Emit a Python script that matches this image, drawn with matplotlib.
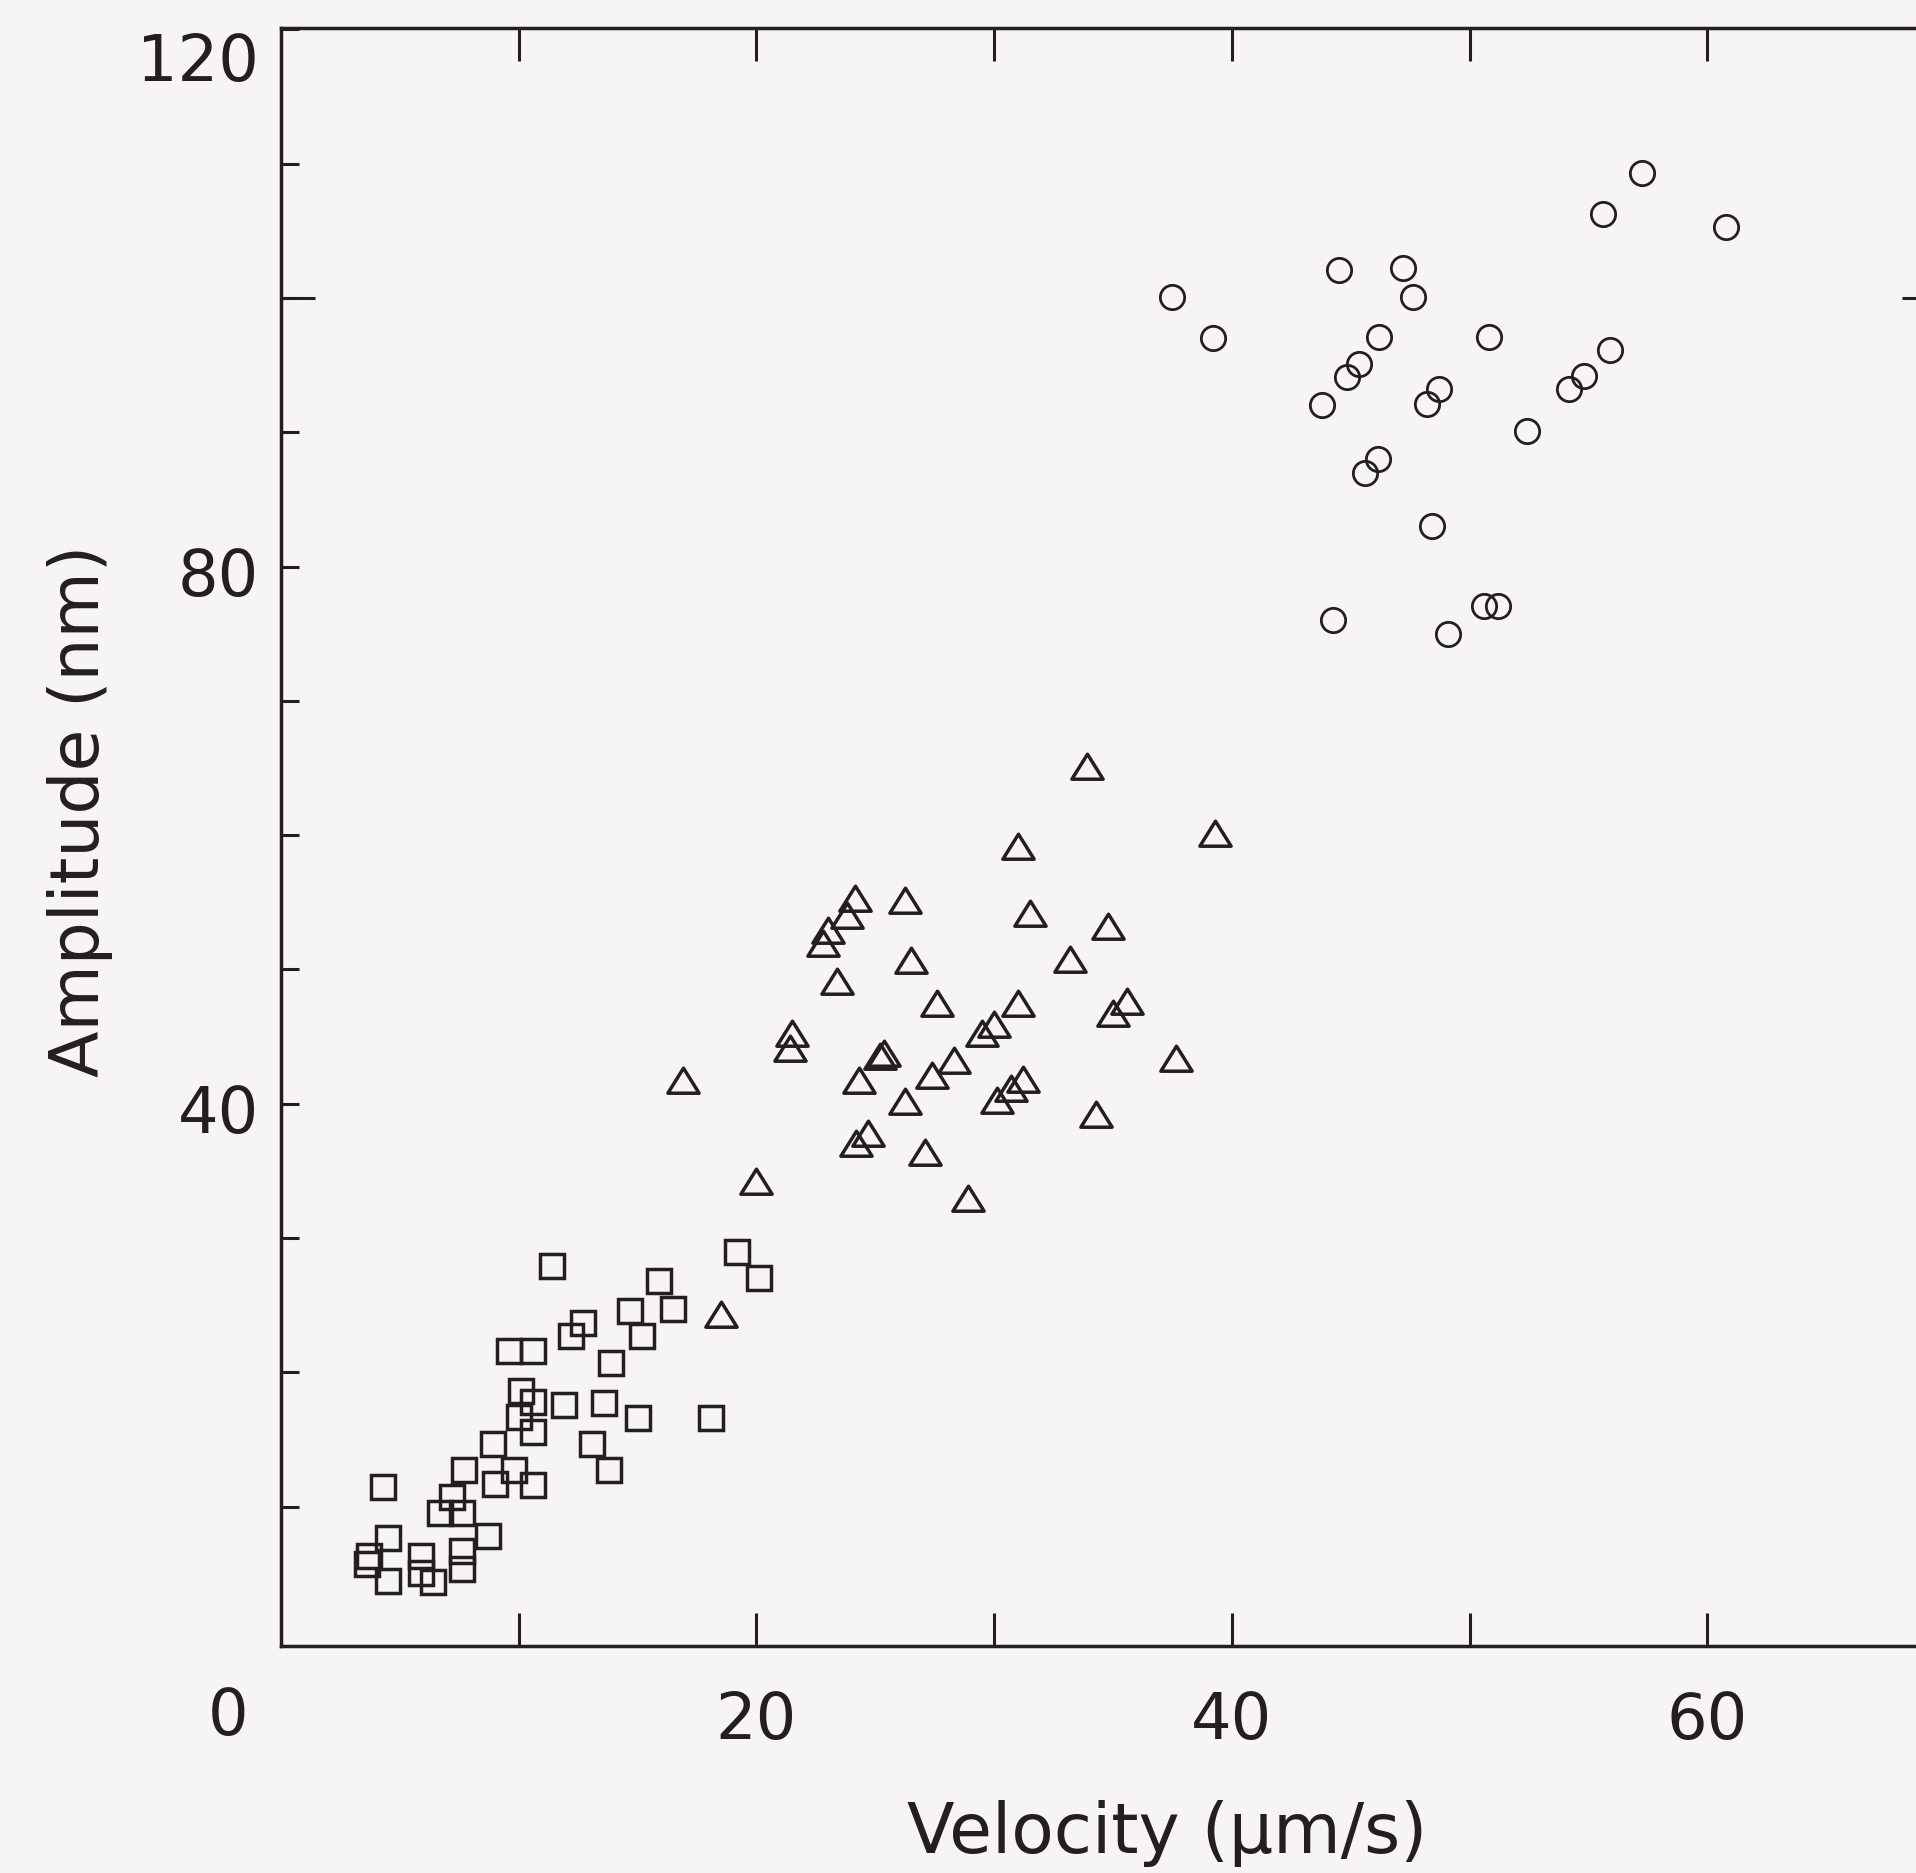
import matplotlib
matplotlib.use("Agg")
import matplotlib.pyplot as plt
from matplotlib.path import Path
from matplotlib.transforms import ScaledTranslation

plt.rcParams['font.family'] = ['DejaVu Sans']

# ---- data: velocity (um/s) vs amplitude (nm) for three groups ----
sq_x = [11.4, 19.2, 20.1, 15.9, 14.7, 16.5, 15.2, 12.7, 12.2, 9.6, 10.6, 13.9,
        10.1, 10.6, 11.9, 13.6, 15.0, 18.1, 10.0, 10.6, 13.1, 13.8, 8.9, 7.7,
        9.0, 9.8, 10.6, 4.3, 7.2, 6.7, 7.6, 8.7, 4.5, 3.7, 3.6, 4.5, 5.9, 5.9,
        6.4, 7.6, 7.6]
sq_y = [27.9, 29.0, 27.0, 26.8, 24.6, 24.7, 22.7, 23.7, 22.7, 21.6, 21.6, 20.7,
        18.6, 17.8, 17.6, 17.7, 16.6, 16.6, 16.7, 15.6, 14.7, 12.7, 14.7, 12.7,
        11.7, 12.7, 11.6, 11.5, 10.7, 9.5, 9.5, 7.8, 7.7, 6.3, 5.7, 4.5, 6.3, 5.1,
        4.4, 6.7, 5.4]

tri_x = [31.0, 24.15, 23.8, 23.0, 22.8, 26.25, 31.5, 26.5, 23.4, 27.6, 31.0, 30.0,
         29.5, 21.5, 21.4, 25.2, 25.35, 28.3, 27.4, 24.3, 16.9, 31.2, 30.7, 30.1,
         26.25, 24.7, 24.2, 27.1, 20.0, 28.9, 33.9, 39.3, 34.8, 33.2, 35.6, 35.0,
         37.65, 34.3, 18.5]
tri_y = [59.1, 55.25, 54.0, 52.9, 51.9, 55.1, 54.1, 50.6, 49.1, 47.4, 47.4, 45.9,
         45.2, 45.2, 44.1, 43.5, 43.7, 43.2, 42.1, 41.7, 41.7, 41.8, 41.1, 40.2,
         40.1, 37.75, 37.0, 36.3, 34.2, 32.9, 65.1, 60.1, 53.2, 50.7, 47.6, 46.7,
         43.3, 39.2, 24.3]

circ_x = [37.5, 39.2, 44.5, 47.2, 47.6, 46.2, 50.8, 45.35, 44.85, 43.8, 48.7, 48.2,
          52.4, 46.15, 45.6, 48.4, 44.26, 50.6, 51.2, 49.1, 57.25, 55.6, 60.8, 55.9,
          54.8, 54.2]
circ_y = [100.1, 97.0, 102.1, 102.2, 100.1, 97.1, 97.1, 95.1, 94.1, 92.0, 93.2, 92.1,
          90.1, 88.0, 87.0, 83.0, 76.0, 77.1, 77.1, 75.0, 109.3, 106.25, 105.3, 96.1,
          94.2, 93.2]

x_ticks = [10, 20, 30, 40, 50, 60]
x_labels = ['', '20', '', '40', '', '60']
y_ticks = list(range(10, 121, 10))
y_labeled = {40: '40', 80: '80', 120: '120'}

ink = '#241e21'
paper = '#f6f4f5'

fig = plt.figure(figsize=(19.16, 18.74), dpi=100, facecolor=paper)
W, H = 1916, 1874
ax = fig.add_axes([281 / W, 227 / H, 1664 / W, 1618 / H])
ax.set_facecolor(paper)
ax.set_xlim(0, 70)
ax.set_ylim(-0.37, 120.1)

for s in ax.spines.values():
    s.set_color(ink)
    s.set_linewidth(2.5)

# open triangle marker, a little wider than tall
tri = Path([(-1, -0.75), (1, -0.75), (0, 0.85), (-1, -0.75)],
           [Path.MOVETO, Path.LINETO, Path.LINETO, Path.CLOSEPOLY])

ax.plot(sq_x, sq_y, linestyle='none', marker='s', markersize=17.5,
        markerfacecolor='none', markeredgecolor=ink, markeredgewidth=2.5)
ax.plot(tri_x, tri_y, linestyle='none', marker=tri, markersize=22.5,
        markerfacecolor='none', markeredgecolor=ink, markeredgewidth=2.5)
ax.plot(circ_x, circ_y, linestyle='none', marker='o', markersize=17.5,
        markerfacecolor='none', markeredgecolor=ink, markeredgewidth=2.0)

# x ticks: inward on bottom and top
ax.set_xticks(x_ticks)
ax.set_xticklabels(x_labels)
ax.tick_params(axis='x', which='major', direction='in', length=23.5, width=2.2,
               top=True, bottom=True, color=ink, labelcolor=ink,
               labelsize=46, pad=31)

# y ticks: short inward ticks every 10
ax.set_yticks(y_ticks)
ax.set_yticklabels([y_labeled.get(v, '') for v in y_ticks])
ax.tick_params(axis='y', which='major', direction='in', length=13, width=2.2,
               left=True, right=True, color=ink, labelcolor=ink,
               labelsize=46, pad=16)

# the top label sits a little below its tick
for tick, v in zip(ax.yaxis.get_major_ticks(), y_ticks):
    dy = -26 if v == 120 else -4
    tick.label1.set_transform(tick.label1.get_transform() +
                              ScaledTranslation(0, dy / 100, fig.dpi_scale_trans))

# longer tick at 100 on both sides
for side, ln in (('left', 24.5), ('right', 31)):
    sec = ax.secondary_yaxis(side)
    sec.set_yticks([100])
    sec.set_yticklabels([''])
    sec.tick_params(direction='in', length=ln, width=2.2, color=ink)
    sec.spines[side].set_visible(False)

# shared origin label
ax.text(-0.0318, -0.0435, '0', transform=ax.transAxes, ha='center', va='center',
        fontsize=46, color=ink)

ax.set_xlabel('Velocity (\u03bcm/s)', fontsize=50, color=ink)
ax.xaxis.set_label_coords(0.5325, -0.0946)
ax.set_ylabel('Amplitude (nm)', fontsize=49, color=ink)
ax.yaxis.set_label_coords(-0.101, 0.5167)

fig.savefig('out.png', dpi=100, facecolor=paper)
